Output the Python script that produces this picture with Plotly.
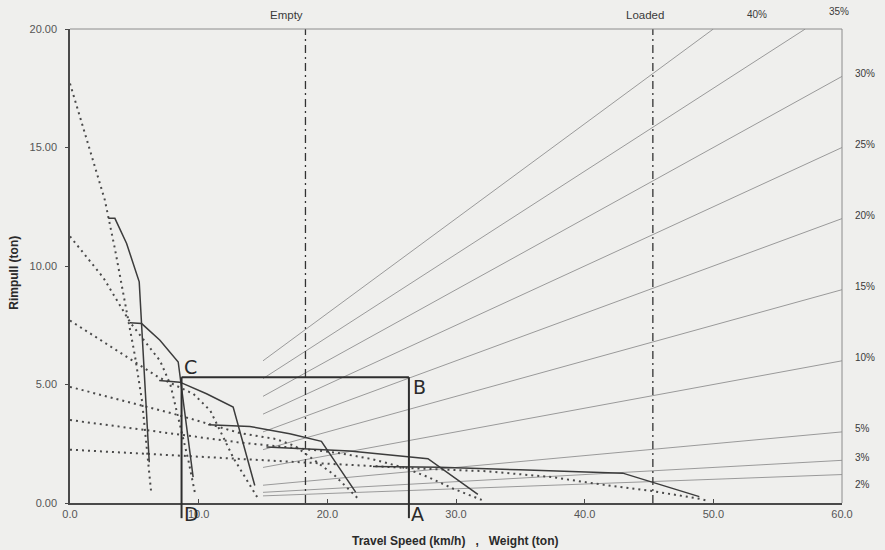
import plotly.graph_objects as go

# ---------------- data ----------------
X_MAX = 60.0
Y_MAX = 20.0
x_tick_vals = [0, 10, 20, 30, 40, 50, 60]
x_tick_text = ["0.0", "10.0", "20.0", "30.0", "40.0", "50.0", "60.0"]
y_tick_vals = [0, 5, 10, 15, 20]
y_tick_text = ["0.00", "5.00", "10.00", "15.00", "20.00"]

# grade resistance lines (rimpull = weight x grade)
grades_pct = [40, 35, 30, 25, 20, 15, 10, 5, 3, 2]
grade_start_weight = 15.0

# machine weights
empty_weight = 18.3
loaded_weight = 45.3

# rimpull curves, solid (gears 1..6)
g1_x = [2.97, 3.49, 4.40, 5.38, 6.16]
g1_y = [12.01, 12.01, 10.95, 9.33, 1.72]
g2_x = [4.66, 5.57, 6.99, 8.41, 9.57]
g2_y = [7.61, 7.57, 6.87, 5.95, 1.09]
g3_x = [6.93, 8.54, 10.61, 12.68, 14.36]
g3_y = [5.17, 5.10, 4.61, 4.05, 0.74]
g4_x = [10.74, 13.98, 17.08, 19.54, 22.20]
g4_y = [3.30, 3.23, 2.92, 2.60, 0.46]
g5_x = [15.27, 21.74, 27.82, 31.70]
g5_y = [2.36, 2.19, 1.87, 0.36]
g6_x = [23.55, 28.73, 34.94, 42.96, 48.91]
g6_y = [1.54, 1.51, 1.40, 1.26, 0.27]

# rimpull curves, dotted (1..6)
d1_x = [0.0, 2.7, 3.5, 4.4, 5.05, 5.6, 6.0, 6.3]
d1_y = [17.7, 12.8, 10.7, 8.1, 6.2, 4.3, 2.2, 0.5]
d2_x = [0.0, 2.6, 4.7, 6.0, 7.0, 7.8, 8.6, 9.2, 9.7]
d2_y = [11.25, 9.5, 7.6, 6.7, 6.0, 5.0, 3.2, 1.8, 0.45]
d3_x = [0.0, 5.7, 6.9, 9.6, 10.9, 12.7, 14.6]
d3_y = [7.7, 5.74, 5.3, 4.6, 3.9, 1.9, 0.2]
d4_x = [0.0, 8.0, 10.7, 13.2, 16.0, 17.5, 19.0, 20.5, 22.4]
d4_y = [4.9, 3.77, 3.35, 2.95, 2.7, 2.4, 1.8, 1.2, 0.18]
d5_x = [0.0, 6.2, 13.2, 17.9, 21.0, 23.5, 25.9, 27.8, 29.8, 32.0]
d5_y = [3.5, 3.06, 2.55, 2.3, 2.1, 1.85, 1.5, 1.1, 0.6, 0.13]
d6_x = [0.0, 6.2, 13.2, 17.9, 23.5, 27.2, 32.4, 37.5, 40.9, 45.3, 48.9, 49.5]
d6_y = [2.25, 2.08, 1.86, 1.72, 1.55, 1.45, 1.34, 1.09, 0.81, 0.50, 0.18, 0.1]

# worked example (hand-drawn): speed D, weight A, rimpull C-B
route_speed = 8.67
route_weight = 26.34
route_rimpull = 5.31

# ---------------- styles ----------------
FONT = "Liberation Sans, Arial, sans-serif"
BG = "#efefed"
SOLID_C = "#3c3c3c"
DOT_C = "#4a4a4a"
GRADE_C = "#9a9a9a"

fig = go.Figure()

# grade lines
for g in grades_pct:
    gf = g / 100.0
    x_end = min(X_MAX, Y_MAX / gf)
    fig.add_trace(go.Scatter(
        x=[grade_start_weight, x_end], y=[gf * grade_start_weight, gf * x_end],
        mode="lines", line=dict(color=GRADE_C, width=1), hoverinfo="skip",
        showlegend=False))

# weight lines (dash-dot)
for w in [empty_weight, loaded_weight]:
    fig.add_trace(go.Scatter(
        x=[w, w], y=[0, Y_MAX], mode="lines",
        line=dict(color="#333333", width=1.3, dash="8px,4px,2px,4px"),
        hoverinfo="skip", showlegend=False))

# dotted curves
for xs, ys in [(d1_x, d1_y), (d2_x, d2_y), (d3_x, d3_y),
               (d4_x, d4_y), (d5_x, d5_y), (d6_x, d6_y)]:
    fig.add_trace(go.Scatter(
        x=xs, y=ys, mode="lines",
        line=dict(color=DOT_C, width=2, dash="2px,4px"),
        hoverinfo="skip", showlegend=False))

# solid curves
for xs, ys in [(g1_x, g1_y), (g2_x, g2_y), (g3_x, g3_y),
               (g4_x, g4_y), (g5_x, g5_y), (g6_x, g6_y)]:
    fig.add_trace(go.Scatter(
        x=xs, y=ys, mode="lines",
        line=dict(color=SOLID_C, width=1.5),
        hoverinfo="skip", showlegend=False))

shapes = []
# frame top / right (lighter)
shapes.append(dict(type="line", xref="paper", yref="paper", x0=0, x1=1, y0=1, y1=1,
                   line=dict(color="#8c8c8c", width=1)))
shapes.append(dict(type="line", xref="paper", yref="paper", x0=1, x1=1, y0=0, y1=1,
                   line=dict(color="#8c8c8c", width=1)))
# worked example lines
shapes.append(dict(type="line", xref="x", yref="y", x0=route_speed, x1=route_weight,
                   y0=route_rimpull, y1=route_rimpull,
                   line=dict(color="#2e2e2e", width=2)))
for xv in [route_speed, route_weight]:
    shapes.append(dict(type="line", xref="x", yref="paper", x0=xv, x1=xv,
                       y0=-0.032, y1=route_rimpull / Y_MAX,
                       line=dict(color="#2e2e2e", width=2)))

annotations = []
# weight labels
annotations.append(dict(x=empty_weight, y=1, xref="x", yref="paper", text="Empty",
                        showarrow=False, xanchor="right", yanchor="bottom", xshift=0, yshift=6,
                        font=dict(family=FONT, size=11.5, color="#3a3a3a")))
annotations.append(dict(x=loaded_weight, y=1, xref="x", yref="paper", text="Loaded",
                        showarrow=False, xanchor="center", yanchor="bottom", xshift=-8, yshift=6,
                        font=dict(family=FONT, size=11.5, color="#3a3a3a")))
# grade labels
for g in grades_pct:
    gf = g / 100.0
    if Y_MAX / gf < X_MAX:
        annotations.append(dict(x=Y_MAX / gf, y=Y_MAX, xref="x", yref="y", text=f"{g}%",
                                showarrow=False, xanchor="center", yanchor="bottom",
                                xshift=44 if g == 40 else 34, yshift=7 if g == 40 else 10,
                                font=dict(family=FONT, size=10, color="#3a3a3a")))
    else:
        annotations.append(dict(x=X_MAX, y=gf * X_MAX, xref="x", yref="y", text=f"{g}%",
                                showarrow=False, xanchor="left", yanchor="middle",
                                xshift=11, yshift=-10 if g == 2 else 3,
                                font=dict(family=FONT, size=10, color="#3a3a3a")))
# axis titles
NB = "&nbsp;"
annotations.append(dict(x=0.499, y=-0.062, xref="paper", yref="paper",
                        text="Travel Speed (km/h)" + NB * 3 + "," + NB * 3 + "Weight (ton)",
                        showarrow=False, yanchor="top", xanchor="center",
                        font=dict(family=FONT, size=12, color="#2a2a2a", weight="bold")))
annotations.append(dict(x=-0.073, y=0.485, xref="paper", yref="paper",
                        text="Rimpull (ton)", textangle=-90, showarrow=False,
                        xanchor="center", yanchor="middle",
                        font=dict(family=FONT, size=12, color="#2a2a2a", weight="bold")))
# hand-drawn letters
LET = dict(family="DejaVu Sans, sans-serif", size=19, color="#2a2a2a")
annotations.append(dict(x=route_speed, y=route_rimpull, xref="x", yref="y", text="C",
                        showarrow=False, xanchor="left", yanchor="bottom", yshift=-3, font=LET))
annotations.append(dict(x=route_weight, y=route_rimpull, xref="x", yref="y", text="B",
                        showarrow=False, xanchor="left", yanchor="top", xshift=2, yshift=3, font=LET))
annotations.append(dict(x=route_weight, y=0, xref="x", yref="y", text="A",
                        showarrow=False, xanchor="left", yanchor="top", xshift=0, yshift=2, font=LET))
annotations.append(dict(x=route_speed, y=0, xref="x", yref="y", text="D",
                        showarrow=False, xanchor="left", yanchor="top", xshift=0, yshift=2, font=LET))

fig.update_layout(
    width=885, height=550,
    margin=dict(l=70, r=43, t=29, b=47),
    paper_bgcolor=BG, plot_bgcolor=BG,
    showlegend=False,
    shapes=shapes, annotations=annotations,
    xaxis=dict(range=[0, X_MAX], tickvals=x_tick_vals, ticktext=x_tick_text,
               showgrid=False, zeroline=False, showline=True, linecolor="#4a4a4a",
               linewidth=1.5, ticks="inside", ticklen=4, tickcolor="#4a4a4a",
               tickfont=dict(family=FONT, size=11, color="#555555")),
    yaxis=dict(range=[0, Y_MAX], tickvals=y_tick_vals, ticktext=y_tick_text,
               showgrid=False, zeroline=False, showline=True, linecolor="#4a4a4a",
               linewidth=1.5, ticks="outside", ticklen=3, tickcolor="#4a4a4a",
               ticklabelstandoff=6,
               tickfont=dict(family=FONT, size=11, color="#555555")),
)

fig.write_html("out.html",
               config={"displayModeBar": False},
               post_script="document.body.style.margin='0';"
                           "document.body.style.background='" + BG + "';")
